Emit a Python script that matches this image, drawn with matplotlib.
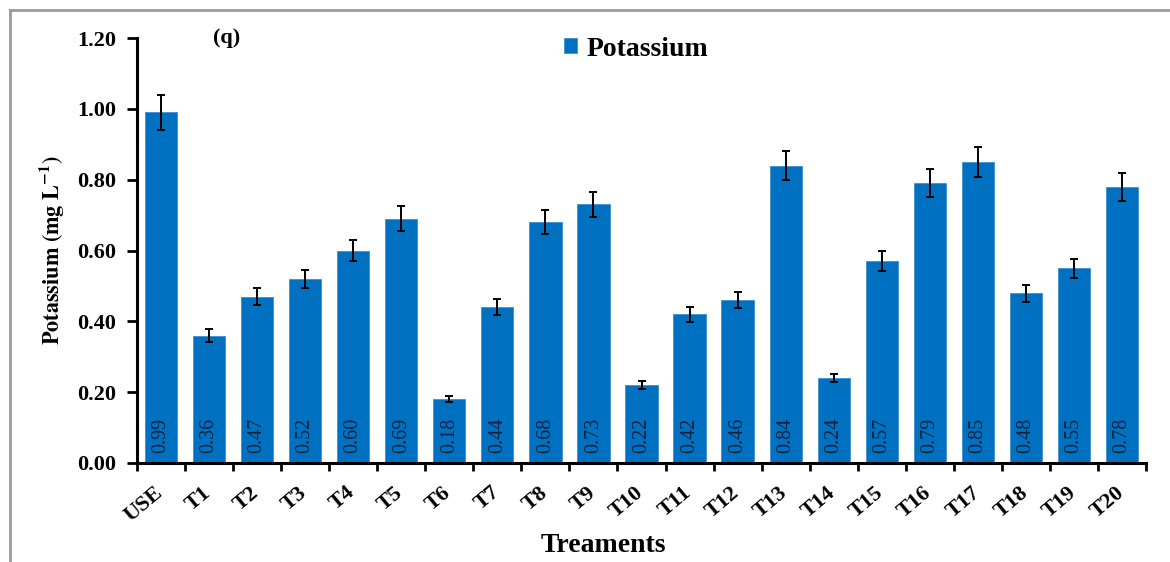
import matplotlib
matplotlib.use("Agg")
import matplotlib.pyplot as plt
from matplotlib.lines import Line2D
import numpy as np

categories = ["USE", "T1", "T2", "T3", "T4", "T5", "T6", "T7", "T8", "T9", "T10",
              "T11", "T12", "T13", "T14", "T15", "T16", "T17", "T18", "T19", "T20"]
values = [0.99, 0.36, 0.47, 0.52, 0.60, 0.69, 0.18, 0.44, 0.68, 0.73, 0.22,
          0.42, 0.46, 0.84, 0.24, 0.57, 0.79, 0.85, 0.48, 0.55, 0.78]
errors = [0.050, 0.017, 0.024, 0.026, 0.030, 0.035, 0.009, 0.022, 0.034, 0.036, 0.011,
          0.021, 0.023, 0.042, 0.012, 0.029, 0.040, 0.043, 0.024, 0.027, 0.039]
yticks = [0.0, 0.2, 0.4, 0.6, 0.8, 1.0, 1.2]

plt.rcParams['font.family'] = ['Liberation Serif', 'DejaVu Serif']
plt.rcParams['mathtext.fontset'] = 'stix'

fig = plt.figure(figsize=(11.7, 5.62), dpi=100)
ax = fig.add_axes([137/1170, 1-463/562, (1146-137)/1170, (463-38)/562])

x = np.arange(len(categories))
blue = '#0070C0'
ax.bar(x, values, width=0.67, color=blue, edgecolor='#3d8fd0', linewidth=0.6, zorder=2,
       label='Potassium')
ax.errorbar(x, values, yerr=errors, fmt='none', ecolor='black', elinewidth=1.4,
            capsize=3.2, capthick=1.4, zorder=3)

for xi, v in zip(x, values):
    ax.text(xi, 0.027, f"{v:.2f}", rotation=90, ha='center', va='bottom',
            fontsize=14.5, color='#14213d', zorder=4)

ax.set_xlim(-0.5, len(categories) - 0.5)
ax.set_ylim(0, 1.2)
ax.set_yticks(yticks)
ax.set_yticklabels([f"{t:.2f}" for t in yticks], fontsize=16, fontweight='bold')
ax.tick_params(axis='y', direction='out', length=7, width=2, pad=8)

ax.set_xticks(np.arange(len(categories) + 1) - 0.5)
ax.set_xticklabels([])
ax.tick_params(axis='x', direction='out', length=6, width=2)
for xi, c in zip(x, categories):
    ax.annotate(c, xy=(xi, 0), xycoords=('data', 'axes fraction'),
                xytext=(-5, -14), textcoords='offset points',
                rotation=40, rotation_mode='anchor', ha='right', va='top',
                fontsize=16, fontweight='bold')

for s in ['top', 'right']:
    ax.spines[s].set_visible(False)
for s in ['left', 'bottom']:
    ax.spines[s].set_linewidth(2.2)

ax.set_ylabel(r"$\mathbf{Potassium\ (mg\ L^{-1})}$", fontsize=16, labelpad=8)
fig.text(603/1170, 1-545/562, "Treaments", ha='center', va='center',
         fontsize=20, fontweight='bold')
fig.text(227/1170, 1-38/562, "(q)", ha='center', va='center', fontsize=16, fontweight='bold')

leg = ax.legend(loc='upper center', bbox_to_anchor=(0.495, 1.062), frameon=False,
                prop={'family': 'Liberation Serif', 'weight': 'bold', 'size': 20},
                handlelength=0.45, handleheight=0.45, handletextpad=0.35)

fig.add_artist(Line2D([10/1170, 1.0], [1-10/562, 1-10/562], transform=fig.transFigure,
                      color='#9a9a9a', linewidth=2))
fig.add_artist(Line2D([10/1170, 10/1170], [1-10/562, 0], transform=fig.transFigure,
                      color='#9a9a9a', linewidth=2))

fig.savefig("out.png", dpi=100)
